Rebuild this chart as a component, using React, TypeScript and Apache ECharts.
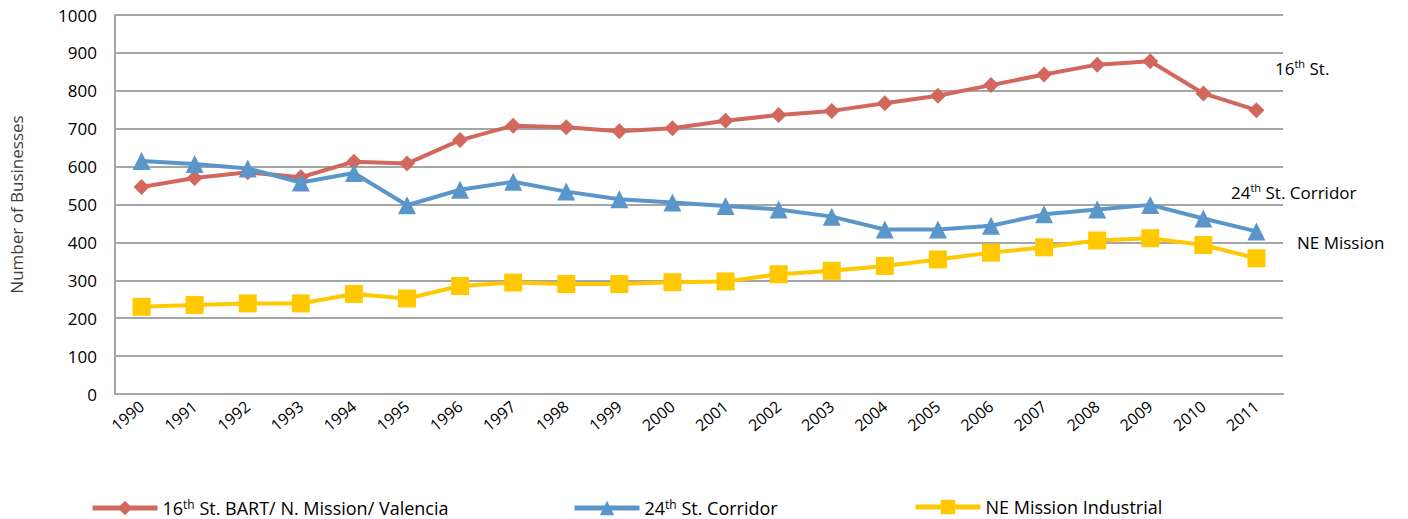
import React, { useEffect, useRef } from "react";
import * as echarts from "echarts";

const years = ["1990","1991","1992","1993","1994","1995","1996","1997","1998","1999","2000","2001","2002","2003","2004","2005","2006","2007","2008","2009","2010","2011"];
const sixteenth = [546, 570, 585, 572, 613, 608, 670, 708, 704, 693, 701, 721, 736, 747, 767, 787, 815, 843, 869, 878, 793, 749];
const twentyFourth = [615, 607, 595, 558, 583, 498, 539, 560, 534, 514, 505, 496, 487, 468, 434, 434, 444, 474, 487, 499, 463, 429];
const neMission = [230, 235, 239, 239, 264, 252, 285, 294, 290, 290, 295, 297, 316, 325, 338, 355, 373, 387, 405, 411, 393, 358];
const yTicks = [0, 100, 200, 300, 400, 500, 600, 700, 800, 900, 1000];

const FONT = "Open Sans";
const RED = "#d2675e";
const BLUE = "#5b96cb";
const YELLOW = "#ffc800";

const mkRich = (size: number, lh: number) => ({
  n: { fontFamily: FONT, fontSize: size, color: "#000", lineHeight: lh },
  s: { fontFamily: FONT, fontSize: Math.round(size * 0.65), color: "#000", verticalAlign: "top", padding: [0, 0, 7, 0], lineHeight: lh },
});

export default function App() {
  const ref = useRef<HTMLDivElement>(null);
  useEffect(() => {
    document.body.style.margin = "0";
    const chart = echarts.init(ref.current!, null, { renderer: "svg" });
    const mkSeries = (name: string, data: number[], color: string, symbol: string, size: number, z: number) => ({
      name,
      type: "line",
      data,
      symbol,
      symbolSize: size,
      showSymbol: true,
      lineStyle: { color, width: 4 },
      itemStyle: { color },
      z,
    });
    const legendBase = {
      top: 493,
      itemWidth: 65,
      itemHeight: 18,
      itemGap: 10,
      lineStyle: { width: 5 },
      textStyle: { fontFamily: FONT, fontSize: 18, color: "#000", rich: mkRich(18, 20) },
      formatter: (name: string) => {
        if (name.startsWith("16th")) return "{n|16}{s|th}{n| St. BART/ N. Mission/ Valencia}";
        if (name.startsWith("24th")) return "{n|24}{s|th}{n| St. Corridor}";
        return "{n|" + name + "}";
      },
    };
    const rich17 = mkRich(17, 21);
    chart.setOption({
      animation: false,
      grid: { left: 114, right: 125, top: 15, bottom: 125 },
      legend: [
        { ...legendBase, left: 85, data: ["16th St. BART/ N. Mission/ Valencia"] },
        { ...legendBase, left: 567, data: ["24th St. Corridor"] },
        { ...legendBase, left: 908, data: ["NE Mission Industrial"] },
      ],
      xAxis: {
        type: "category",
        data: years,
        boundaryGap: true,
        axisLine: { lineStyle: { color: "#a6a6a6", width: 2 } },
        axisTick: { alignWithLabel: true, length: 6, lineStyle: { color: "#a6a6a6", width: 2 } },
        axisLabel: { rotate: 40, fontFamily: FONT, fontSize: 16, color: "#000", margin: 10, interval: 0 },
      },
      yAxis: {
        type: "value",
        min: 0,
        max: 1000,
        interval: 100,
        name: "Number of Businesses",
        nameLocation: "middle",
        nameGap: 90,
        nameTextStyle: { fontFamily: FONT, fontSize: 17, color: "#404040" },
        axisLine: { show: true, lineStyle: { color: "#a6a6a6", width: 2 } },
        axisTick: { show: false },
        splitLine: { lineStyle: { color: "#a6a6a6", width: 2 } },
        axisLabel: {
          fontFamily: FONT, fontSize: 17, color: "#000", margin: 18,
          formatter: (v: number) => (yTicks.includes(v) ? String(v) : ""),
        },
      },
      graphic: [
        { type: "text", left: 1275, top: 58, style: { text: "{n|16}{s|th}{n| St.}", rich: rich17 } },
        { type: "text", left: 1231, top: 182, style: { text: "{n|24}{s|th}{n| St. Corridor}", rich: rich17 } },
        { type: "text", left: 1297, top: 234, style: { text: "{n|NE Mission}", rich: rich17 } },
      ],
      series: [
        mkSeries("16th St. BART/ N. Mission/ Valencia", sixteenth, RED, "diamond", 16, 3),
        mkSeries("24th St. Corridor", twentyFourth, BLUE, "triangle", 18, 4),
        mkSeries("NE Mission Industrial", neMission, YELLOW, "rect", 18, 2),
      ],
    });
    return () => chart.dispose();
  }, []);
  return <div ref={ref} style={{ width: 1408, height: 519 }} />;
}
